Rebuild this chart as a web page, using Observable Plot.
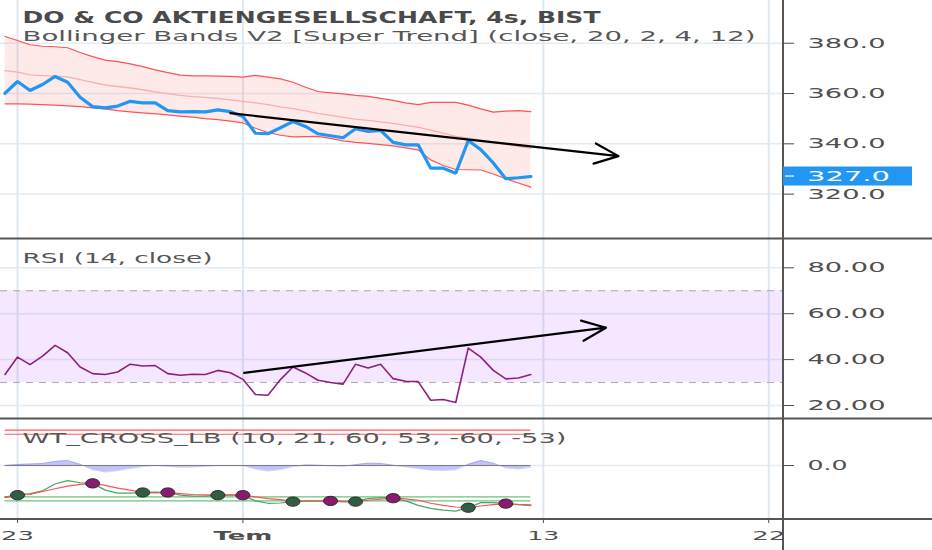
<!DOCTYPE html>
<html>
<head>
<meta charset="utf-8">
<script src="https://cdn.jsdelivr.net/npm/d3@7"></script>
<script src="https://cdn.jsdelivr.net/npm/@observablehq/plot@0.6"></script>
<style>
html,body{margin:0;padding:0;background:#fff;overflow:hidden;}
#chart{position:relative;width:932px;height:550px;overflow:hidden;}
.panel{position:absolute;left:0;width:932px;}
</style>
</head>
<body>
<div id="chart"></div>
<script>
// ---------- data (bar index 0..42, 4h bars) ----------
const closes = [360.1,364.8,361.2,363.6,366.8,364.5,358.5,354.8,354.3,355.0,
  356.9,356.3,356.3,353.2,352.7,352.8,352.7,353.5,352.8,350.9,
  344.2,344.0,346.4,348.9,346.9,344.0,343.2,342.4,346.0,344.9,
  345.3,340.6,339.6,339.6,330.3,330.3,328.3,341.3,337.7,332.4,
  326.1,326.5,327.0];
const upper = [382.7,381.1,379.4,378.8,378.6,378.2,376.3,374.7,373.3,372.7,
  371.8,370.7,369.4,368.3,367.3,367.0,367.0,366.9,366.8,366.5,
  367.2,366.5,365.8,364.5,362.5,360.8,360.3,359.9,359.3,358.9,
  358.1,357.3,356.3,355.6,356.5,356.5,356.5,355.4,353.9,352.6,
  353.0,353.2,352.8];
const basis = [369.1,368.5,367.4,367.1,366.9,366.6,365.5,364.4,363.4,362.8,
  362.2,361.5,360.7,360.0,359.3,358.8,358.5,358.1,357.5,356.9,
  356.3,355.6,354.7,354.0,353.1,352.1,351.3,350.5,349.8,349.3,
  348.7,348.1,347.3,346.6,345.4,344.3,343.0,342.3,341.5,340.5,
  339.8,339.0,338.2];
const lower = [355.9,355.9,355.8,355.6,355.4,355.1,354.8,354.3,353.9,353.2,
  352.7,352.3,351.9,351.5,351.0,350.6,350.0,349.6,349.0,348.3,
  346.2,344.5,343.4,342.8,342.9,343.0,342.2,341.2,340.6,340.2,
  339.7,339.2,338.4,337.6,333.6,331.4,329.8,329.7,329.6,328.0,
  326.1,324.4,322.8];
const rsi = [33.5,41.1,37.8,41.5,46.2,43.0,36.8,33.9,33.5,34.6,
  38.0,37.2,37.4,33.9,33.2,33.6,33.5,35.3,34.3,31.4,
  24.8,24.5,31.3,36.8,34.2,31.0,30.0,29.3,38.0,36.3,
  38.0,31.7,30.6,30.4,22.3,22.6,21.3,45.0,41.1,35.3,
  31.6,32.0,33.5];
const wt1 = [-53.2,-50.3,-47.5,-42.9,-31.4,-25.7,-29.2,-30.3,-41.7,-46.9,
  -46.9,-45.7,-45.0,-45.7,-50.3,-52.0,-52.0,-50.3,-49.7,-50.3,
  -60.0,-64.0,-63.5,-61.2,-60.0,-59.8,-60.0,-61.7,-61.2,-56.0,
  -54.3,-55.4,-60.0,-67.5,-72.6,-75.5,-77.2,-71.5,-62.9,-62.9,
  -64.6,-66.0,-66.7];
const wt2 = [-54.3,-50.3,-49.1,-44.0,-39.4,-34.9,-32.0,-30.3,-33.7,-38.3,
  -41.7,-45.7,-46.5,-45.7,-47.5,-49.1,-49.7,-50.3,-50.3,-50.3,
  -53.2,-56.0,-57.7,-61.2,-60.6,-60.0,-60.0,-60.6,-61.2,-58.9,
  -57.2,-55.4,-56.6,-58.9,-64.0,-67.5,-70.3,-71.5,-68.6,-66.4,
  -64.6,-66.5,-68.0];
const wtDiff = [0,1.7,2.5,3.5,7,8.6,2,-7,-11,-9,
  -5,-2,0,-1.5,-3,-2.5,-1.5,0,0,0,
  -6,-9.5,-7,-2,1,0.5,-0.5,-1.5,1.5,4,
  3.5,0.5,-2.5,-5,-8,-8.6,-7.5,2,8.6,4,
  -4,-5.7,-3];
const crossIdx  = [1,7,11,13,17,19,23,26,28,31,37,40];
const crossVal  = [-50.3,-30.3,-45.7,-45.7,-50.3,-50.3,-61.2,-60.0,-61.2,-55.4,-71.5,-64.6];
const crossType = ["up","down","up","down","up","down","up","down","up","down","up","down"];

const priceTicks = [320,340,360,380];
const rsiTicks = [20,40,60,80];
const rsiLevels = [30,70];
const wtTicks = [0];
const wtOB = [60,53];
const wtOS = [-53,-60];
const xTicks = [1,19,43,61];
const xTickLabels = ["23","Tem","13","22"];
const xDomain = [-0.36, 62.18];

const priceArrow = [{x1: 18.0, y1: 352.2, x2: 49.0, y2: 335.1}];
const rsiArrow   = [{x1: 19.1, y1: 34.2, x2: 48.0, y2: 53.9}];

const titleText = "DO & CO AKTIENGESELLSCHAFT, 4s, BIST";
const bbText = "Bollinger Bands V2 [Super Trend] (close, 20, 2, 4, 12)";
const rsiText = "RSI (14, close)";
const wtText = "WT_CROSS_LB (10, 21, 60, 53, -60, -53)";

// ---------- tables ----------
const price = closes.map((c, i) => ({i, close: c, upper: upper[i], basis: basis[i], lower: lower[i]}));
const rsiData = rsi.map((v, i) => ({i, v}));
const wtData = wt1.map((v, i) => ({i, wt1: v, wt2: wt2[i], diff: wtDiff[i]}));
const crosses = crossIdx.map((i, k) => ({i, v: crossVal[k], t: crossType[k]}));
const last = closes.length - 1;

// ellipse symbol for cross markers
const ellipse = {draw(ctx) {
  const rx = 7, ry = 4.6, k = 0.5523;
  ctx.moveTo(rx, 0);
  ctx.bezierCurveTo(rx, ry*k, rx*k, ry, 0, ry);
  ctx.bezierCurveTo(-rx*k, ry, -rx, ry*k, -rx, 0);
  ctx.bezierCurveTo(-rx, -ry*k, -rx*k, -ry, 0, -ry);
  ctx.bezierCurveTo(rx*k, -ry, rx, -ry*k, rx, 0);
  ctx.closePath();
}};

const FONT = "DejaVu Sans";
const gridColor = "#e3ecf3";
const vGrid = Plot.ruleX(xTicks, {stroke: "#dde8f0", strokeWidth: 2});
const common = {
  width: 932, marginLeft: 0, marginRight: 149,
  style: {fontFamily: FONT, fontSize: "14px", color: "#4f4f4f", background: "transparent", overflow: "visible"}
};
const yAxisOpts = {axis: "right", tickSize: 10, tickPadding: 14, label: null};
const legend = (txt, dy, extra) => Plot.text([txt], {text: d => d, frameAnchor: "top-left", dx: 22, dy,
  textAnchor: "start", lineAnchor: "middle", fontFamily: FONT, ...extra});

// ---------- panel 1: price + Bollinger ----------
const p1 = Plot.plot({
  ...common, height: 239, marginTop: 0, marginBottom: 1,
  x: {domain: xDomain, axis: null},
  y: {domain: [302.35, 397], ticks: priceTicks, tickFormat: ".1f", ...yAxisOpts},
  marks: [
    Plot.ruleY(priceTicks, {stroke: gridColor, strokeWidth: 1.5}),
    vGrid,
    Plot.areaY(price, {x: "i", y1: "lower", y2: "upper", fill: "rgba(255,82,82,0.12)"}),
    Plot.lineY(price, {x: "i", y: "basis", stroke: "#f6b0b4", strokeWidth: 1.3}),
    Plot.lineY(price, {x: "i", y: "upper", stroke: "#ff5252", strokeWidth: 1.2}),
    Plot.lineY(price, {x: "i", y: "lower", stroke: "#ff5252", strokeWidth: 1.2}),
    Plot.lineY(price, {x: "i", y: "close", stroke: "#2196f3", strokeWidth: 3.2, strokeLinejoin: "miter"}),
    Plot.arrow(priceArrow, {x1: "x1", y1: "y1", x2: "x2", y2: "y2", stroke: "#000", strokeWidth: 2.2, headLength: 17.7, headAngle: 46}),
    legend(titleText, 18, {fontSize: 15, fontWeight: "bold", fill: "#4a4a4a"}),
    legend(bbText, 35.4, {fontSize: 14.5, fill: "#565656"})
  ]
});

// ---------- panel 2: RSI ----------
const p2 = Plot.plot({
  ...common, height: 180, marginTop: 0, marginBottom: 1,
  x: {domain: xDomain, axis: null},
  y: {domain: [14.34, 92.33], ticks: rsiTicks, tickFormat: ".2f", ...yAxisOpts},
  marks: [
    Plot.ruleY(rsiTicks, {stroke: gridColor, strokeWidth: 1.5}),
    vGrid,
    Plot.rect([rsiLevels], {y1: d => d[0], y2: d => d[1], fill: "rgba(153,21,255,0.1)"}),
    Plot.ruleY(rsiLevels, {stroke: "#a9a9a9", strokeWidth: 1, strokeDasharray: "7,6"}),
    Plot.lineY(rsiData, {x: "i", y: "v", stroke: "#8e1f7c", strokeWidth: 1.6}),
    Plot.arrow(rsiArrow, {x1: "x1", y1: "y1", x2: "x2", y2: "y2", stroke: "#000", strokeWidth: 2.2, headLength: 17.7, headAngle: 46}),
    legend(rsiText, 19, {fontSize: 14.5, fill: "#565656"})
  ]
});

// ---------- panel 3: WT cross ----------
const p3 = Plot.plot({
  ...common, height: 131, marginTop: 0, marginBottom: 31,
  x: {domain: xDomain, ticks: xTicks, tickFormat: d => xTickLabels[xTicks.indexOf(d)], tickSize: 4, tickPadding: 8, label: null},
  y: {domain: [-91.5, 78], ticks: wtTicks, tickFormat: ".1f", ...yAxisOpts},
  marks: [
    Plot.ruleY(wtTicks, {stroke: gridColor, strokeWidth: 1.5}),
    vGrid,
    Plot.ruleY(wtOB, {x1: 0, x2: last, stroke: "#ff5a5a", strokeWidth: 1.2}),
    Plot.ruleY(wtOS, {x1: 0, x2: last, stroke: "#6cc27a", strokeWidth: 1.3}),
    Plot.areaY(wtData, {x: "i", y: "diff", fill: "rgba(80,85,235,0.35)"}),
    Plot.lineY(wtData, {x: "i", y: "diff", stroke: "rgba(80,85,235,0.25)", strokeWidth: 1}),
    Plot.ruleY([0], {x1: 0, x2: last, stroke: "#7b7b86", strokeWidth: 1}),
    Plot.lineY(wtData, {x: "i", y: "wt1", stroke: "#43a867", strokeWidth: 1.2}),
    Plot.lineY(wtData, {x: "i", y: "wt2", stroke: "#ff5252", strokeWidth: 1.2}),
    Plot.dot(crosses, {x: "i", y: "v", symbol: ellipse, fill: d => d.t === "up" ? "#345c43" : "#8a1a6e", stroke: "#2b2b2b", strokeWidth: 1}),
    legend(wtText, 19.2, {fontSize: 14.5, fill: "#565656"})
  ]
});

// ---------- assemble ----------
const chart = document.getElementById("chart");
const tops = [0, 239, 419];
[p1, p2, p3].forEach((p, k) => {
  const d = document.createElement("div");
  d.className = "panel";
  d.style.top = tops[k] + "px";
  d.appendChild(p);
  chart.appendChild(d);
});

// stretch text widths to the reference's wide lettering
const textFit = {
  [titleText]: {w: 578}, [bbText]: {w: 733}, [rsiText]: {w: 190}, [wtText]: {w: 544},
  "380.0": {w: 78}, "360.0": {w: 78}, "340.0": {w: 78}, "320.0": {w: 78},
  "80.00": {w: 78}, "60.00": {w: 78}, "40.00": {w: 78}, "20.00": {w: 78},
  "0.0": {w: 40},
  "23": {w: 33, fs: 12.5}, "Tem": {w: 59, fs: 12.5, fw: "bold"}, "13": {w: 32, fs: 12.5}, "22": {w: 33, fs: 12.5}
};
function fit(svg) {
  svg.querySelectorAll("text").forEach(t => {
    const s = textFit[t.textContent];
    if (!s) return;
    t.setAttribute("textLength", s.w);
    t.setAttribute("lengthAdjust", "spacingAndGlyphs");
    if (s.fs) t.setAttribute("font-size", s.fs);
    if (s.fw) t.setAttribute("font-weight", s.fw);
  });
}
[p1, p2, p3].forEach(fit);

// frame lines and last-price label, positioned from the scales
const axisX = p1.scale("x").range[1];
const axisBottom = tops[2] + p3.scale("y").range[0];
const ov = d3.select(chart).append("svg")
  .attr("width", 932).attr("height", 550)
  .style("position", "absolute").style("left", 0).style("top", 0);
ov.append("line").attr("x1", 0).attr("x2", 932).attr("y1", tops[1] - 0.5).attr("y2", tops[1] - 0.5)
  .attr("stroke", "#555").attr("stroke-width", 2);
ov.append("line").attr("x1", 0).attr("x2", 932).attr("y1", tops[2] - 0.5).attr("y2", tops[2] - 0.5)
  .attr("stroke", "#555").attr("stroke-width", 2);
ov.append("line").attr("x1", 0).attr("x2", 932).attr("y1", axisBottom).attr("y2", axisBottom)
  .attr("stroke", "#555").attr("stroke-width", 2);
ov.append("line").attr("x1", axisX).attr("x2", axisX).attr("y1", 0).attr("y2", 550)
  .attr("stroke", "#555").attr("stroke-width", 2);

const lastY = p1.scale("y").apply(closes[last]);
ov.append("rect").attr("x", axisX).attr("y", lastY - 9.5).attr("width", 129).attr("height", 19).attr("fill", "#2196f3");
ov.append("line").attr("x1", axisX + 2).attr("x2", axisX + 11).attr("y1", lastY).attr("y2", lastY)
  .attr("stroke", "#fff").attr("stroke-width", 1.2);
ov.append("text").attr("x", axisX + 24).attr("y", lastY).attr("dy", "0.36em")
  .attr("fill", "#fff").attr("font-family", FONT).attr("font-size", 14)
  .attr("textLength", 83).attr("lengthAdjust", "spacingAndGlyphs")
  .text(d3.format(".1f")(closes[last]));
</script>
</body>
</html>
